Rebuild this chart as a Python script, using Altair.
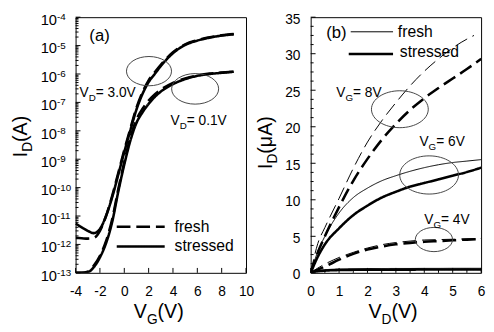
import altair as alt
import pandas as pd

FONT = "Liberation Sans"
W, H = 174, 261

# ---------------- Panel (a): I_D vs V_G (log scale) ----------------
VG = [-4, -3.5, -3, -2.5, -2, -1.5, -1, -0.5, 0, 0.5, 1, 1.5, 2, 2.5, 3, 4, 5, 6, 7, 8, 9]
ID_VD30_FRESH = [1.7e-12, 1.65e-12, 1.6e-12, 1.7e-12, 3.0e-12, 1.0e-11, 5.0e-11, 3.2e-10, 2.1e-9, 1.2e-8,
                 6.5e-8, 2.3e-7, 6.0e-7, 1.15e-6, 2.1e-6, 5.8e-6, 1.1e-5, 1.55e-5, 1.95e-5, 2.3e-5, 2.55e-5]
ID_VD30_STRESSED = [5.5e-12, 4.0e-12, 3.0e-12, 2.5e-12, 3.5e-12, 1.0e-11, 4.5e-11, 2.8e-10, 1.8e-9, 1.05e-8,
                    5.6e-8, 2.0e-7, 5.2e-7, 1.0e-6, 1.9e-6, 5.4e-6, 1.05e-5, 1.5e-5, 1.9e-5, 2.25e-5, 2.5e-5]
ID_VD01_FRESH = [1.0e-13, 1.0e-13, 1.1e-13, 1.8e-13, 4.0e-13, 1.3e-12, 7.5e-12, 8.5e-11, 8.0e-10, 5.8e-9,
                 2.5e-8, 6.0e-8, 1.15e-7, 1.9e-7, 2.8e-7, 4.9e-7, 7.0e-7, 8.9e-7, 1.03e-6, 1.12e-6, 1.2e-6]
ID_VD01_STRESSED = [1.0e-13, 1.0e-13, 1.05e-13, 1.6e-13, 3.5e-13, 1.1e-12, 6.0e-12, 7.0e-11, 6.5e-10, 4.5e-9,
                    1.9e-8, 4.5e-8, 8.9e-8, 1.55e-7, 2.4e-7, 4.4e-7, 6.6e-7, 8.6e-7, 1.0e-6, 1.1e-6, 1.2e-6]

XTICKS_A = [-4, -2, 0, 2, 4, 6, 8, 10]
DECADES_A = [-13, -12, -11, -10, -9, -8, -7, -6, -5, -4]
MINOR_MULT = [2, 3, 4, 5, 6, 7, 8, 9]

# annotations (a) in data coordinates
ELL_A_X = [2.03, 5.82]
ELL_A_Y = [1.26e-6, 3.0e-7]
ELL_A_W = [46, 48]
LEG_A_X1 = [-0.62, -0.62]
LEG_A_X2 = [3.32, 3.32]
LEG_A_Y = [4.2e-12, 8.5e-13]
LEG_A_COND = ["fresh", "stressed"]
LEG_A_TX = [4.13, 4.13]
LEG_A_TY = [2.8e-12, 5.8e-13]

# ---------------- Panel (b): I_D vs V_D ----------------
VD = [0, 0.25, 0.5, 1, 1.5, 2, 2.5, 3, 3.5, 4, 4.5, 5, 5.5, 6]
VD_VG8_FRESH = [0, 0.25, 0.5, 1, 1.5, 2, 2.5, 3, 3.5, 4, 4.5, 5, 5.5, 5.75]
ID_VG8_FRESH = [0, 4.0, 6.2, 10.2, 14.3, 17.9, 20.8, 23.3, 25.6, 27.6, 29.3, 30.8, 32.0, 32.5]
ID_VG8_STRESSED = [0, 2.8, 5.0, 9.0, 12.6, 15.6, 18.2, 20.4, 22.3, 23.9, 25.3, 26.6, 27.9, 29.3]
ID_VG6_FRESH = [0, 2.9, 5.0, 8.2, 10.3, 11.6, 12.6, 13.3, 13.9, 14.4, 14.8, 15.1, 15.3, 15.5]
ID_VG6_STRESSED = [0, 2.2, 3.9, 6.1, 7.9, 9.2, 10.3, 11.1, 11.8, 12.3, 12.8, 13.3, 13.8, 14.4]
ID_VG4_FRESH = [0, 0.65, 1.2, 2.1, 2.8, 3.4, 3.85, 4.15, 4.35, 4.5, 4.55, 4.6, 4.65, 4.7]
ID_VG4_STRESSED = [0, 0.45, 0.85, 1.8, 2.6, 3.2, 3.6, 3.9, 4.1, 4.25, 4.35, 4.45, 4.55, 4.6]
ID_VG2_FRESH = [0, 0.3, 0.42, 0.52, 0.56, 0.58, 0.59, 0.6, 0.6, 0.61, 0.61, 0.62, 0.62, 0.62]
ID_VG2_STRESSED = [0, 0.2, 0.3, 0.38, 0.41, 0.42, 0.43, 0.44, 0.44, 0.45, 0.45, 0.45, 0.45, 0.45]

XTICKS_B = [0, 1, 2, 3, 4, 5, 6]
XMINOR_B = [0.5, 1.5, 2.5, 3.5, 4.5, 5.5]
YTICKS_B = [0, 5, 10, 15, 20, 25, 30, 35]
YMINOR_B = [v + d for v in [0, 5, 10, 15, 20, 25, 30] for d in (1.25, 2.5, 3.75)]

ELL_B_X = [3.14, 4.17, 4.34]
ELL_B_Y = [22.4, 13.4, 4.56]
ELL_B_W = [58, 60, 38]
LEG_B_X1 = [1.41, 1.34]
LEG_B_X2 = [2.90, 2.90]
LEG_B_Y = [33.0, 29.95]
LEG_B_COND = ["fresh", "stressed"]
LEG_B_TX = [3.07, 3.14]
LEG_B_TY = [32.3, 29.6]

# ---------------- helpers ----------------
AW = {" ": 0.278, "(": 0.333, ")": 0.333, "-": 0.333, ".": 0.278, "=": 0.584, "A": 0.667,
      "D": 0.722, "G": 0.778, "I": 0.278, "V": 0.667, "μ": 0.576}


def pieces(parts, fs, sfs, sdy):
    rows, dx = [], 0.0
    for txt, sub in parts:
        f = sfs if sub else fs
        rows.append({"t": txt, "fs": f, "dx": dx, "dy": sdy if sub else 0})
        dx += sum(AW.get(c, 0.556) for c in txt) * f
    return rows


def annot_rows(items):
    rows = []
    for x, y, parts, fs, sfs, sdy in items:
        for r in pieces(parts, fs, sfs, sdy):
            r.update({"x": x, "y": y})
            rows.append(r)
    return pd.DataFrame(rows)


ELL_PATH = "M -1 0 A 1 0.65 0 1 0 1 0 A 1 0.65 0 1 0 -1 0 Z"
DXE = {"expr": "datum.dx"}
DYE = {"expr": "datum.dy"}
NEG = "datum.value < 0 ? '-' + abs(datum.value) : datum.label"


def text_layer(df, xenc, yenc):
    return alt.Chart(df).mark_text(align="left", baseline="alphabetic", font=FONT, color="black",
                                   dx=DXE, dy=DYE).encode(
        x=xenc, y=yenc, text="t:N", size=alt.Size("fs:Q", scale=None))


def title_layer(parts, px, py, angle, sdy):
    df = pd.DataFrame(pieces(parts, 20, 14, sdy))
    kw = dict(align="left", baseline="alphabetic", font=FONT, color="black", dx=DXE, dy=DYE)
    if angle:
        kw["angle"] = angle
    return alt.Chart(df).mark_text(**kw).encode(
        x=alt.value(px), y=alt.value(py), text="t:N", size=alt.Size("fs:Q", scale=None))


def anchor(px, py):
    return alt.Chart(pd.DataFrame({"a": [0]})).mark_rule(strokeOpacity=0).encode(
        x=alt.value(px), x2=alt.value(px + 1), y=alt.value(py), y2=alt.value(py + 1))


# ---------------- panel (a) ----------------
xa = alt.X("x:Q", scale=alt.Scale(domain=[-4, 10], nice=False, zero=False),
           axis=alt.Axis(values=XTICKS_A, tickSize=0, domain=False, grid=False, title=None,
                         labelFont=FONT, labelFontSize=14, labelColor="black", labelPadding=12,
                         labelFlush=False, labelOverlap=False, labelExpr=NEG))
ya = alt.Y("y:Q", scale=alt.Scale(type="log", domain=[1e-13, 1e-4], nice=False), axis=None)

rows = []
for name, cond, ys in [("3.0f", "fresh", ID_VD30_FRESH), ("3.0s", "stressed", ID_VD30_STRESSED),
                       ("0.1f", "fresh", ID_VD01_FRESH), ("0.1s", "stressed", ID_VD01_STRESSED)]:
    for x, y in zip(VG, ys):
        rows.append({"x": x, "y": y, "curve": name, "cond": cond})
df_a = pd.DataFrame(rows)
dash_a = alt.StrokeDash("cond:N", scale=alt.Scale(domain=["fresh", "stressed"], range=[[14, 6], [1, 0]]),
                        legend=None)

lines_a = alt.Chart(df_a).mark_line(clip=True, interpolate="monotone", color="black", strokeWidth=2.6).encode(
    x=xa, y=ya, detail="curve:N", strokeDash=dash_a)

leg_a = alt.Chart(pd.DataFrame({"x": LEG_A_X1, "x2": LEG_A_X2, "y": LEG_A_Y, "cond": LEG_A_COND})).mark_rule(
    color="black", strokeWidth=2.6).encode(x=xa, x2="x2:Q", y=ya, strokeDash=dash_a)

ell_a = alt.Chart(pd.DataFrame({"x": ELL_A_X, "y": ELL_A_Y, "s": [w * w for w in ELL_A_W]})).mark_point(
    shape=ELL_PATH, filled=False, color="#444", strokeWidth=1, opacity=1).encode(
    x=xa, y=ya, size=alt.Size("s:Q", scale=None))

ann_a = annot_rows([
    (-3.68, 1.6e-7, [("V", 0), ("D", 1), ("= 3.0V", 0)], 14, 10, 4),
    (3.80, 1.6e-8, [("V", 0), ("D", 1), ("= 0.1V", 0)], 14, 10, 4),
    (-2.87, 1.5e-5, [("(a)", 0)], 17, 12, 0),
    (LEG_A_TX[0], LEG_A_TY[0], [("fresh", 0)], 16, 12, 0),
    (LEG_A_TX[1], LEG_A_TY[1], [("stressed", 0)], 16, 12, 0),
])
txt_a = text_layer(ann_a, xa, ya)

xt_a = alt.Chart(pd.DataFrame({"x": XTICKS_A})).mark_rule(color="black").encode(
    x=xa, y=alt.value(H), y2=alt.value(H - 5))
ymaj_a = alt.Chart(pd.DataFrame({"y": [10.0 ** e for e in DECADES_A]})).mark_rule(color="black").encode(
    y=ya, x=alt.value(0), x2=alt.value(5))
ymin_a = alt.Chart(pd.DataFrame({"y": [k * 10.0 ** e for e in DECADES_A[:-1] for k in MINOR_MULT]})).mark_rule(
    color="black").encode(y=ya, x=alt.value(0), x2=alt.value(3))
lab10 = alt.Chart(pd.DataFrame({"y": [10.0 ** e for e in DECADES_A], "t": ["10"] * len(DECADES_A)})).mark_text(
    align="right", baseline="middle", font=FONT, fontSize=15, color="black", dy=3).encode(
    y=ya, x=alt.value(-19), text="t:N")
labexp = alt.Chart(pd.DataFrame({"y": [10.0 ** e for e in DECADES_A], "t": [str(e) for e in DECADES_A]})).mark_text(
    align="left", baseline="middle", font=FONT, fontSize=10, color="black", dy=0).encode(
    y=ya, x=alt.value(-19), text="t:N")

panel_a = alt.layer(
    lines_a, leg_a, ell_a, txt_a, xt_a, ymaj_a, ymin_a, lab10, labexp,
    title_layer([("I", 0), ("D", 1), ("(A)", 0)], -50, 143, 270, 5),
    title_layer([("V", 0), ("G", 1), ("(V)", 0)], 59.5, 307, 0, 6),
    anchor(-68, -5),
).properties(width=W, height=H)

# ---------------- panel (b) ----------------
xb = alt.X("x:Q", scale=alt.Scale(domain=[0, 6], nice=False, zero=False),
           axis=alt.Axis(values=XTICKS_B, tickSize=0, domain=False, grid=False, title=None,
                         labelFont=FONT, labelFontSize=14, labelColor="black", labelPadding=12,
                         labelFlush=False, labelOverlap=False))
yb = alt.Y("y:Q", scale=alt.Scale(domain=[0, 35], nice=False, zero=False),
           axis=alt.Axis(values=YTICKS_B, tickSize=0, domain=False, grid=False, title=None,
                         labelFont=FONT, labelFontSize=14, labelColor="black", labelPadding=11,
                         labelOffset=2, labelFlush=False, labelOverlap=False))

rows = []
for vg, cond, xs, ys in [("8V", "fresh", VD_VG8_FRESH, ID_VG8_FRESH), ("8V", "stressed", VD, ID_VG8_STRESSED),
                         ("6V", "fresh", VD, ID_VG6_FRESH), ("6V", "stressed", VD, ID_VG6_STRESSED),
                         ("4V", "fresh", VD, ID_VG4_FRESH), ("4V", "stressed", VD, ID_VG4_STRESSED),
                         ("2V", "fresh", VD, ID_VG2_FRESH), ("2V", "stressed", VD, ID_VG2_STRESSED)]:
    for x, y in zip(xs, ys):
        rows.append({"x": x, "y": y, "vg": vg, "cond": cond, "curve": vg + cond})
df_b = pd.DataFrame(rows)
width_b = alt.StrokeWidth("cond:N", scale=alt.Scale(domain=["fresh", "stressed"], range=[1, 2.6]), legend=None)

lines_b = alt.Chart(df_b).mark_line(clip=True, interpolate="monotone", color="black").encode(
    x=xb, y=yb, detail="curve:N", strokeWidth=width_b,
    strokeDash=alt.StrokeDash("vg:N", scale=alt.Scale(domain=["8V", "6V", "4V", "2V"],
                                                      range=[[16, 7], [12, 4, 2, 3, 2, 4], [7, 4], [2, 3]]),
                              legend=None))

leg_b = alt.Chart(pd.DataFrame({"x": LEG_B_X1, "x2": LEG_B_X2, "y": LEG_B_Y, "cond": LEG_B_COND})).mark_rule(
    color="black").encode(x=xb, x2="x2:Q", y=yb, strokeWidth=width_b)

ell_b = alt.Chart(pd.DataFrame({"x": ELL_B_X, "y": ELL_B_Y, "s": [w * w for w in ELL_B_W]})).mark_point(
    shape=ELL_PATH, filled=False, color="#444", strokeWidth=1, opacity=1).encode(
    x=xb, y=yb, size=alt.Size("s:Q", scale=None))

ann_b = annot_rows([
    (0.90, 24.1, [("V", 0), ("G", 1), ("= 8V", 0)], 14, 10, 4),
    (3.83, 17.3, [("V", 0), ("G", 1), ("= 6V", 0)], 14, 10, 4),
    (4.00, 6.7, [("V", 0), ("G", 1), ("= 4V", 0)], 14, 10, 4),
    (0.55, 32.2, [("(b)", 0)], 17, 12, 0),
    (LEG_B_TX[0], LEG_B_TY[0], [("fresh", 0)], 16, 12, 0),
    (LEG_B_TX[1], LEG_B_TY[1], [("stressed", 0)], 16, 12, 0),
])
txt_b = text_layer(ann_b, xb, yb)

xt_b = alt.Chart(pd.DataFrame({"x": XTICKS_B})).mark_rule(color="black").encode(
    x=xb, y=alt.value(H), y2=alt.value(H - 5))
xtm_b = alt.Chart(pd.DataFrame({"x": XMINOR_B})).mark_rule(color="black").encode(
    x=xb, y=alt.value(H), y2=alt.value(H - 3))
yt_b = alt.Chart(pd.DataFrame({"y": YTICKS_B})).mark_rule(color="black").encode(
    y=yb, x=alt.value(0), x2=alt.value(5))
ytm_b = alt.Chart(pd.DataFrame({"y": YMINOR_B})).mark_rule(color="black").encode(
    y=yb, x=alt.value(0), x2=alt.value(3))

panel_b = alt.layer(
    lines_b, leg_b, ell_b, txt_b, xt_b, xtm_b, yt_b, ytm_b,
    title_layer([("I", 0), ("D", 1), (" (μA)", 0)], -39, 155, 270, 5),
    title_layer([("V", 0), ("D", 1), (" (V)", 0)], 59, 307, 0, 6),
).properties(width=W, height=H)

chart = alt.hconcat(panel_a, panel_b, spacing=66, bounds="flush").properties(
    padding={"left": 0, "top": 0, "right": 0, "bottom": 0}
).configure_view(stroke="black", strokeWidth=1)

chart.save("out.html", embed_options={"renderer": "svg", "actions": False})
